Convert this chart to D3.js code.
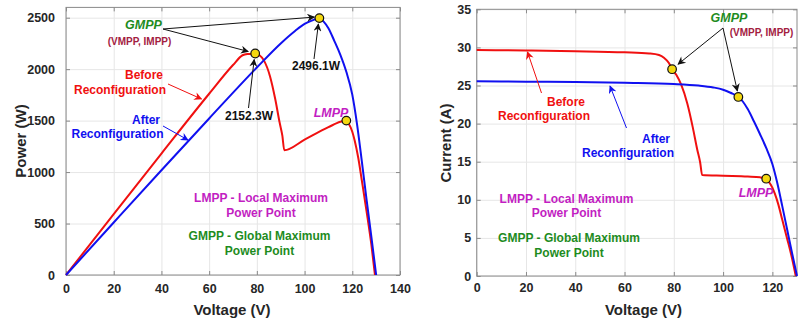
<!DOCTYPE html>
<html>
<head>
<meta charset="utf-8">
<script src="https://cdn.jsdelivr.net/npm/d3@7"></script>
<style>
  body { margin: 0; background: #fff; }
  text { font-family: "Liberation Sans", Arial, sans-serif; font-weight: bold; }
</style>
</head>
<body>
<svg id="chart" width="800" height="322"></svg>
<script>
// before reconfiguration (red)
const vBefore = [0, 20, 40, 60, 70, 74, 76, 78, 79.3, 81, 83, 85.5, 87.7, 89.5, 90.7, 91.5, 100, 110, 115, 117.2, 118.5, 120, 121, 122.5, 124, 126, 128, 129.5];
const iBefore = [29.65, 29.6, 29.5, 29.35, 29.2, 29.0, 28.65, 27.95, 27.14, 26.4, 25.1, 22.6, 19.5, 16.6, 14.9, 13.25, 13.15, 13.05, 12.95, 12.8, 12.4, 11.6, 10.8, 9.3, 7.4, 4.9, 2.3, 0];
const pBefore = [0, 592, 1180, 1761, 2040, 2135, 2147, 2149, 2152, 2138, 2083, 1932, 1710, 1486, 1351, 1212, 1315, 1436, 1489, 1500, 1469, 1392, 1307, 1139, 918, 617, 294, 0];

// after reconfiguration (blue)
const vAfter = [0, 20, 40, 60, 80, 90, 96, 100, 103, 106.2, 108, 110, 112.5, 115, 117.5, 120, 122, 124, 126, 128, 130];
const iAfter = [25.55, 25.5, 25.45, 25.35, 25.2, 25.0, 24.75, 24.45, 24.05, 23.5, 22.9, 21.9, 20.3, 18.6, 16.8, 14.7, 12.2, 9.2, 6.1, 3.0, 0];
const pAfter = [0, 510, 1018, 1521, 2016, 2250, 2371, 2440, 2472, 2496, 2462, 2398, 2273, 2139, 1974, 1752, 1464, 1104, 731, 371, 0];

// marked points: GMPP before, GMPP after, LMPP before
const markV = [79.3, 106.2, 117.5];
const markP = [2152.3, 2496.1, 1500];
const markI = [27.14, 23.5, 12.77];

const pvTicksX = [0, 20, 40, 60, 80, 100, 120, 140];
const pvTicksY = [0, 500, 1000, 1500, 2000, 2500];
const ivTicksX = [0, 20, 40, 60, 80, 100, 120];
const ivTicksY = [0, 5, 10, 15, 20, 25, 30, 35];

const RED = '#f01010', BLUE = '#1010f0', GREEN = '#1e8c1e', MAGENTA = '#c21ec2', MAROON = '#a3203f';

const svg = d3.select('#chart');

const defs = svg.append('defs');
[['k', '#111'], ['r', RED], ['b', BLUE]].forEach(([id, c]) => {
  defs.append('marker')
    .attr('id', 'arr-' + id)
    .attr('viewBox', '0 0 10 10')
    .attr('refX', 9).attr('refY', 5)
    .attr('markerWidth', 9).attr('markerHeight', 8)
    .attr('markerUnits', 'userSpaceOnUse')
    .attr('orient', 'auto')
    .append('path')
    .attr('d', 'M0,0 L10,5 L0,10 L3,5 Z')
    .attr('fill', c);
});

function drawFrame(x, y, xt, yt, padX, padY) {
  const [x0, x1] = x.range();
  const [y0, y1] = y.range();
  const g = svg.append('g');

  g.append('g').attr('transform', `translate(0,${y0})`)
    .call(d3.axisBottom(x).tickValues(xt).tickSize(-(y0 - y1)).tickFormat(''))
    .call(s => s.selectAll('line').attr('stroke', '#e6e6e6'))
    .call(s => s.select('.domain').remove());
  g.append('g').attr('transform', `translate(${x0},0)`)
    .call(d3.axisLeft(y).tickValues(yt).tickSize(-(x1 - x0)).tickFormat(''))
    .call(s => s.selectAll('line').attr('stroke', '#e6e6e6'))
    .call(s => s.select('.domain').remove());

  g.append('rect')
    .attr('x', x0).attr('y', y1)
    .attr('width', x1 - x0).attr('height', y0 - y1)
    .attr('fill', 'none').attr('stroke', '#8a8a8a');

  const fmt = d3.format('d');
  const axes = [
    [d3.axisBottom(x).tickValues(xt).tickFormat(fmt).tickSizeInner(-4).tickSizeOuter(0).tickPadding(padX), `translate(0,${y0})`],
    [d3.axisLeft(y).tickValues(yt).tickFormat(fmt).tickSizeInner(-4).tickSizeOuter(0).tickPadding(padY), `translate(${x0},0)`],
    [d3.axisTop(x).tickValues(xt).tickSizeInner(-4).tickSizeOuter(0).tickFormat(''), `translate(0,${y1})`],
    [d3.axisRight(y).tickValues(yt).tickSizeInner(-4).tickSizeOuter(0).tickFormat(''), `translate(${x1},0)`]
  ];
  axes.forEach(([ax, tr]) => {
    g.append('g').attr('transform', tr).call(ax)
      .call(s => s.select('.domain').remove())
      .call(s => s.selectAll('line').attr('stroke', '#8a8a8a'))
      .call(s => s.selectAll('text').attr('font-size', 12.5).attr('fill', '#262626')
        .attr('font-family', '"Liberation Sans", Arial, sans-serif').attr('font-weight', 'bold'));
  });
}

function drawCurve(x, y, xs, ys, color) {
  const line = d3.line()
    .x((d, i) => x(xs[i]))
    .y(d => y(d))
    .curve(d3.curveMonotoneX);
  svg.append('path')
    .attr('d', line(ys))
    .attr('fill', 'none')
    .attr('stroke', color)
    .attr('stroke-width', 2);
}

function dot(cx, cy) {
  svg.append('circle').attr('cx', cx).attr('cy', cy).attr('r', 4.3)
    .attr('fill', '#f4d80f').attr('stroke', '#111').attr('stroke-width', 1.2);
}

function txt(x, y, s, color, size, opts = {}) {
  const t = svg.append('text')
    .attr('x', x).attr('y', y)
    .attr('fill', color)
    .attr('font-size', size)
    .attr('text-anchor', opts.anchor || 'middle')
    .text(s);
  if (opts.italic) t.attr('font-style', 'italic');
  if (opts.rotate) t.attr('transform', `rotate(-90,${x},${y})`);
  return t;
}

function arrow(x1, y1, x2, y2, id, color) {
  svg.append('line')
    .attr('x1', x1).attr('y1', y1).attr('x2', x2).attr('y2', y2)
    .attr('stroke', color).attr('stroke-width', 1)
    .attr('marker-end', `url(#arr-${id})`);
}

// ---------- P-V chart ----------
const xP = d3.scaleLinear().domain([0, 140]).range([66, 400]);
const yP = d3.scaleLinear().domain([0, 2600]).range([275, 7.4]);
drawFrame(xP, yP, pvTicksX, pvTicksY, 9, 11);
drawCurve(xP, yP, vBefore, pBefore, RED);
drawCurve(xP, yP, vAfter, pAfter, BLUE);

txt(232, 314.5, 'Voltage (V)', '#262626', 15);
txt(26, 141, 'Power (W)', '#262626', 15, { rotate: true });

const gb = [xP(markV[0]), yP(markP[0])];
const ga = [xP(markV[1]), yP(markP[1])];
const lb = [xP(markV[2]), yP(markP[2])];

txt(143.5, 29, 'GMPP', GREEN, 12.5, { italic: true });
txt(139.5, 44.5, '(VMPP, IMPP)', MAROON, 10);
arrow(163, 29, ga[0] - 5, ga[1] - 1, 'k', '#111');
arrow(163, 29, gb[0] - 7, gb[1] - 2, 'k', '#111');
txt(249, 120, d3.format('.1f')(markP[0]) + 'W', '#111', 12);
arrow(248.5, 108, gb[0] - 1, gb[1] + 6, 'k', '#111');
txt(316, 70, d3.format('.1f')(markP[1]) + 'W', '#111', 12);
arrow(314, 59, ga[0] - 1, ga[1] + 6, 'k', '#111');
txt(331, 116.5, 'LMPP', MAGENTA, 12.5, { italic: true });

txt(144, 79, 'Before', RED, 12);
txt(120, 94, 'Reconfiguration', RED, 12);
arrow(168, 84, 201.5, 99, 'r', RED);
txt(146, 124, 'After', BLUE, 12);
txt(117.5, 137.5, 'Reconfiguration', BLUE, 12);
arrow(163, 126, 188, 140, 'b', BLUE);

txt(261, 202, 'LMPP - Local Maximum', MAGENTA, 12);
txt(261, 217, 'Power Point', MAGENTA, 12);
txt(259.5, 240, 'GMPP - Global Maximum', GREEN, 12);
txt(259.5, 255, 'Power Point', GREEN, 12);

dot(...gb);
dot(...ga);
dot(...lb);

// ---------- I-V chart ----------
const xI = d3.scaleLinear().domain([0, 130]).range([476.7, 797]);
const yI = d3.scaleLinear().domain([0, 35]).range([276, 9.3]);
drawFrame(xI, yI, ivTicksX, ivTicksY, 7, 5.5);
drawCurve(xI, yI, vBefore, iBefore, RED);
drawCurve(xI, yI, vAfter, iAfter, BLUE);

txt(643.5, 315, 'Voltage (V)', '#262626', 15);
txt(451, 143, 'Current (A)', '#262626', 15, { rotate: true });

const gbI = [xI(markV[0]), yI(markI[0])];
const gaI = [xI(markV[1]), yI(markI[1])];
const lbI = [xI(markV[2]), yI(markI[2])];

txt(729, 21.5, 'GMPP', GREEN, 12.5, { italic: true });
txt(761.5, 35.5, '(VMPP, IMPP)', MAROON, 10);
arrow(723, 28, gbI[0] + 6, gbI[1] - 5, 'k', '#111');
arrow(723, 28, gaI[0] - 1, gaI[1] - 6, 'k', '#111');
txt(756, 197, 'LMPP', MAGENTA, 12.5, { italic: true });

txt(566, 106, 'Before', RED, 12);
txt(544, 120, 'Reconfiguration', RED, 12);
arrow(541.5, 93, 527.5, 52, 'r', RED);
txt(656, 142.5, 'After', BLUE, 12);
txt(628, 157, 'Reconfiguration', BLUE, 12);
arrow(626.5, 128, 610, 86, 'b', BLUE);

txt(566.5, 202.5, 'LMPP - Local Maximum', MAGENTA, 12);
txt(566.5, 217, 'Power Point', MAGENTA, 12);
txt(569, 242, 'GMPP - Global Maximum', GREEN, 12);
txt(569, 257, 'Power Point', GREEN, 12);

dot(...gbI);
dot(...gaI);
dot(...lbI);
</script>
</body>
</html>
